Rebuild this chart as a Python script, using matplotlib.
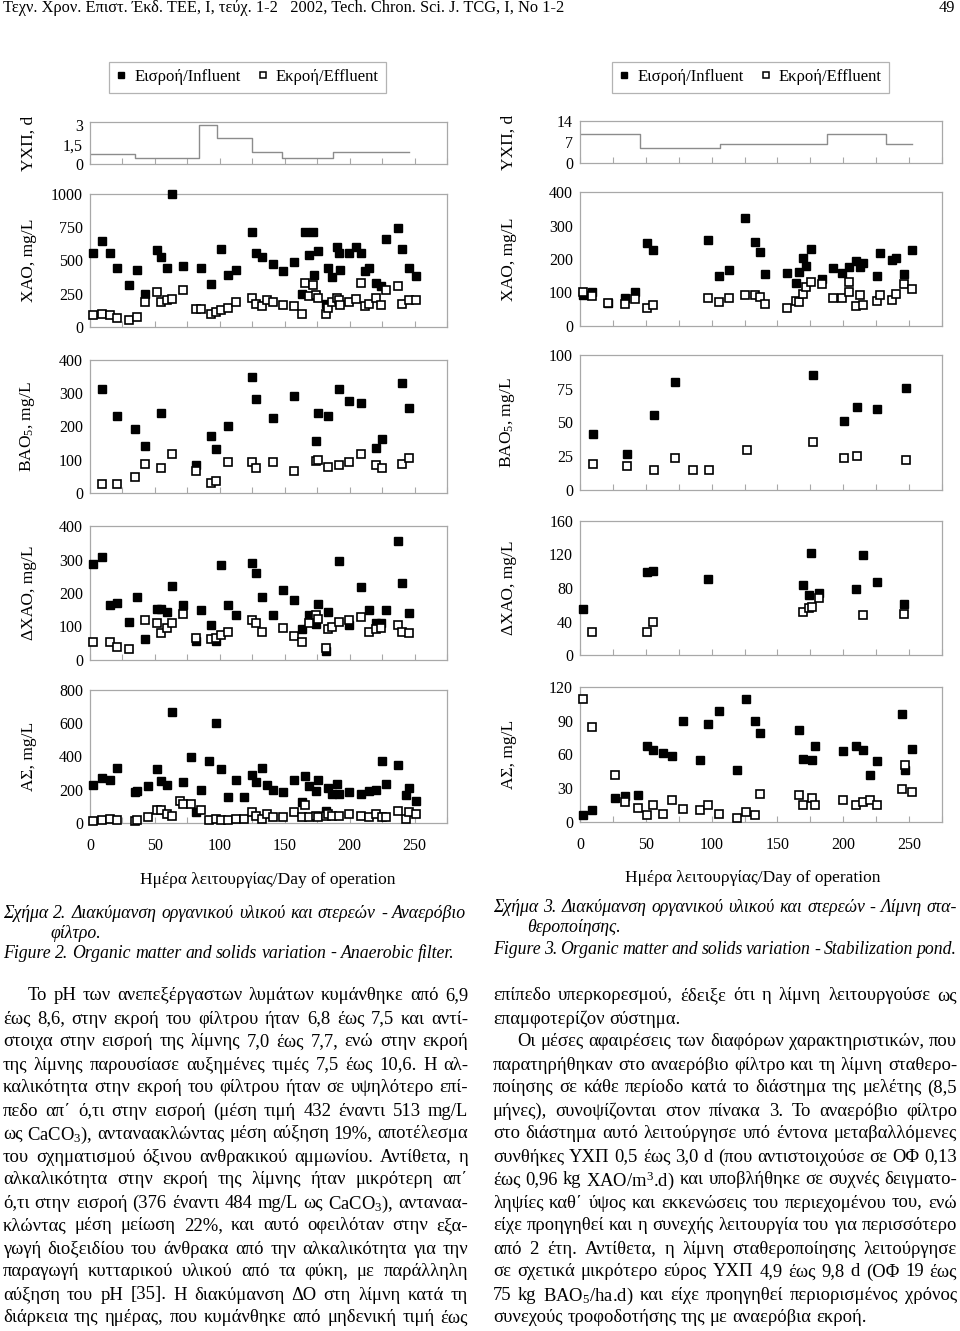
import matplotlib
matplotlib.use("Agg")
import matplotlib.pyplot as plt
from matplotlib.ticker import MultipleLocator, FuncFormatter
from matplotlib.lines import Line2D

plt.rcParams['font.family'] = ['Liberation Serif', 'DejaVu Serif']
plt.rcParams['mathtext.fontset'] = 'custom'
plt.rcParams['mathtext.rm'] = 'Liberation Serif'
plt.rcParams['mathtext.it'] = 'Liberation Serif:italic'

# ---------------- Anaerobic filter (Figure 2) ----------------
af_hrt_edges = [0, 34.6, 83.8, 98, 125, 148, 187, 245.6]
af_hrt_vals = [0.8, 0.5, 3.0, 2.0, 0.9, 0.5, 0.9]

af_cod_in_days = [2.6, 9, 15.4, 21, 30, 36.4, 42.3, 51.3, 54.6, 59, 63.3, 72, 85.6, 93, 101, 106, 112.3, 125,
                  127.7, 132.6, 141.3, 149, 157, 163.6, 165.4, 169, 171.8, 172.6, 176, 182, 183.6, 186.7, 190,
                  191.5, 192.3, 199.5, 205, 209, 211.8, 214.9, 220.5, 224.4, 228, 237, 240.5, 245.6, 251.5]
af_cod_in = [558, 646, 553, 440, 319, 427, 251, 578, 523, 440, 997, 460, 440, 327, 590, 394, 427, 711, 558, 528,
             472, 420, 490, 251, 711, 540, 711, 394, 570, 176, 440, 377, 603, 553, 427, 553, 603, 553, 422, 440,
             334, 309, 658, 746, 583, 440, 384]
af_cod_out_days = [2.6, 9, 15.4, 21, 30, 36.4, 42.3, 51.3, 54.6, 59, 63.3, 72, 81.3, 85.6, 93, 97, 101, 106,
                   112.3, 125, 127.7, 132.6, 136, 141.3, 149, 157, 163.6, 165.4, 169, 171.8, 173.8, 176, 181.5,
                   183.6, 186.7, 190, 191.5, 192.3, 199.5, 205, 209, 211.8, 214.9, 220.5, 224.4, 228, 237, 240.5,
                   245.6, 251.5]
af_cod_out = [88, 100, 88, 68, 55, 75, 188, 264, 188, 201, 211, 276, 138, 133, 100, 113, 126, 146, 188, 221, 176,
              156, 201, 188, 163, 156, 100, 332, 231, 319, 244, 221, 100, 143, 188, 221, 206, 163, 188, 214, 332,
              156, 176, 221, 163, 276, 307, 176, 201, 201]

af_bod_in_days = [9, 21, 34.6, 42.3, 54.6, 81.3, 93, 97, 106, 125, 127.7, 141.3, 157, 173.8, 176, 183.6, 191.5,
                  199.5, 209, 220.5, 225, 240.5, 246]
af_bod_in = [313, 231, 192, 140, 240, 83, 171, 132, 200, 348, 283, 227, 292, 157, 240, 231, 313, 278, 270, 135,
             162, 330, 257]
af_bod_out_days = [9, 21, 34.6, 42.3, 54.6, 63.3, 81.3, 93, 97, 106, 125, 127.7, 141.3, 157, 173.8, 176, 183.6,
                   191.5, 199.5, 209, 220.5, 225, 240.5, 246]
af_bod_out = [27, 27, 48, 88, 75, 118, 67, 31, 35, 92, 92, 75, 92, 67, 97, 100, 78, 83, 92, 118, 83, 75, 88, 105]

af_dcod_in_days = [2.6, 9, 15.4, 21, 30, 36.4, 42.3, 51.3, 54.6, 59, 63.3, 72, 81.3, 85.6, 93, 97, 101, 106,
                   112.3, 125, 127.7, 132.6, 141.3, 149, 157, 163.6, 169, 173.8, 176, 181.5, 183.6, 191.5, 199.5,
                   209, 214.9, 220.5, 224.4, 228, 237, 240.5, 246]
af_dcod_in = [287, 307, 165, 170, 114, 187, 62, 152, 152, 144, 222, 165, 58, 149, 104, 58, 283, 165, 135, 290, 261,
              187, 135, 209, 179, 92, 135, 107, 166, 28, 144, 297, 104, 218, 149, 109, 109, 149, 356, 231, 139]
af_dcod_out_days = [2.6, 15.4, 21, 30, 42.3, 51.3, 54.6, 59, 63.3, 72, 81.3, 93, 97, 101, 106, 125, 127.7, 132.6,
                    149, 157, 163.6, 169, 173.8, 176, 181.5, 183.6, 186.7, 191.5, 199.5, 209, 214.9, 220.5, 224.4,
                    237, 240.5, 246]
af_dcod_out = [53, 53, 40, 32, 119, 109, 80, 96, 109, 136, 66, 62, 66, 75, 83, 119, 109, 83, 96, 71, 53, 109, 135,
               122, 37, 92, 99, 114, 119, 129, 83, 92, 96, 104, 83, 80]

af_ss_in_days = [2.6, 9, 15.4, 21, 34.6, 36.4, 44.4, 51.3, 54.6, 59, 63.3, 72, 78, 81.3, 85.6, 91.3, 97, 101, 106,
                 112.3, 119, 125, 127.7, 132.6, 136, 141.3, 149, 157, 163.6, 165.4, 169, 173.8, 176, 181.5, 183.6,
                 186.7, 190, 191.5, 199.5, 209, 214.9, 220.5, 225, 228, 237, 243.6, 246, 251.5]
af_ss_in = [226, 270, 260, 330, 184, 190, 220, 322, 254, 226, 670, 244, 400, 64, 200, 374, 600, 324, 156, 260, 156,
            290, 244, 330, 226, 200, 184, 260, 124, 280, 220, 194, 260, 70, 210, 176, 234, 176, 184, 176, 190, 200,
            374, 234, 350, 170, 210, 130]
af_ss_out_days = [2.6, 9, 15.4, 21, 34.6, 36.4, 44.4, 51.3, 54.6, 59, 63.3, 69.2, 72, 78, 85.6, 91.3, 97, 101, 106,
                  112.3, 119, 125, 127.7, 132.6, 136, 141.3, 149, 157, 163.6, 165.4, 169, 173.8, 176, 181.5, 183.6,
                  186.7, 191.5, 199.5, 209, 214.9, 220.5, 225, 228, 237, 243.6, 246, 251.5]
af_ss_out = [10, 16, 26, 16, 10, 16, 36, 78, 78, 54, 44, 130, 116, 116, 78, 16, 26, 16, 16, 26, 26, 64, 44, 26, 54,
             36, 36, 64, 36, 110, 36, 44, 36, 44, 54, 44, 44, 54, 44, 36, 54, 36, 36, 70, 26, 64, 54]

# ---------------- Stabilization pond (Figure 3) ----------------
sp_hrt_edges = [0, 45.6, 106, 187.4, 232.5, 252]
sp_hrt_vals = [9.8, 4.9, 6.2, 9.8, 6.2]

sp_cod_in_days = [2.5, 8.9, 21, 34.2, 42, 50.7, 55.2, 97, 105.6, 113.5, 125.6, 133.2, 136.8, 140.8, 157.5, 164,
                  166.4, 169.7, 172, 175.8, 184, 192.5, 199.3, 204.4, 209.5, 212.8, 214.8, 225.4, 228, 236.8, 240.1,
                  246.5, 252.3]
sp_cod_in = [92, 102, 69, 84, 102, 248, 226, 256, 149, 167, 321, 251, 221, 154, 157, 127, 162, 204, 179, 231, 140,
             172, 159, 175, 194, 175, 189, 149, 218, 197, 204, 154, 226]
sp_cod_out_days = [2.5, 8.9, 21, 34.2, 42, 50.7, 55.2, 97, 105.6, 113.5, 125.6, 133.2, 136.8, 140.8, 157.5, 164,
                   166.4, 169.7, 172, 175.8, 184, 192.5, 199.3, 204.4, 204.4, 209.5, 212.8, 214.8, 225.4, 228,
                   236.8, 240.1, 246.5, 252.3]
sp_cod_out = [102, 89, 69, 67, 81, 55, 63, 84, 71, 84, 92, 92, 87, 67, 55, 75, 71, 97, 117, 132, 124, 84, 84, 102,
              132, 60, 92, 63, 75, 92, 79, 97, 124, 110]

sp_bod_in_days = [10.1, 35.5, 56.2, 72, 177.3, 200.4, 210.5, 226, 247.7]
sp_bod_in = [41.5, 26.4, 55.3, 80.2, 85.4, 51.1, 61.7, 59.8, 75.8]
sp_bod_out_days = [10.1, 35.5, 56.2, 72, 86, 98.3, 126.6, 177.3, 200.4, 210.5, 247.7]
sp_bod_out = [19, 18, 14.8, 23.5, 14.8, 14.8, 29.6, 35.3, 23.5, 25.4, 22.2]

sp_dcod_in_days = [2.5, 50.7, 55.2, 97, 169.7, 174, 175.8, 181.9, 209.5, 214.8, 225.4, 246.5]
sp_dcod_in = [54.8, 99.2, 100.8, 90.5, 83.7, 71.8, 121.8, 73.8, 78.6, 119.8, 86.9, 61.1]
sp_dcod_out_days = [8.9, 50.7, 55.2, 169.7, 174, 176.5, 181.9, 214.8, 246.5]
sp_dcod_out = [27, 27, 39.3, 51.2, 56, 57.5, 68.3, 47.6, 49.2]

sp_ss_in_days = [2.5, 9.1, 26.6, 34.4, 44.3, 50.7, 55.2, 62.8, 69.7, 78.5, 91.2, 97.3, 105.9, 119, 125.9, 133.2,
                 136.8, 166.4, 169.7, 176, 178.6, 199.6, 209.5, 214.8, 220.4, 225.9, 244.7, 246.7, 252.3]
sp_ss_in = [5.9, 11, 21.6, 23.1, 24.3, 67.6, 63.7, 61.3, 58.7, 89.8, 54.8, 87.1, 98.7, 45.9, 109, 89.8, 79.4, 82.1,
            56.3, 54.8, 67.6, 62.8, 67.6, 64.3, 42.1, 53.9, 96.3, 45.9, 64.6]
sp_ss_out_days = [2.5, 9.1, 26.6, 34.4, 44.3, 50.7, 55.2, 62.8, 69.7, 78.5, 91.2, 97.3, 105.9, 119, 125.9, 133.2,
                  136.8, 166.4, 169.7, 176, 178.6, 199.6, 209.5, 214.8, 220.4, 225.9, 244.7, 246.7, 252.3]
sp_ss_out = [109, 84.4, 42.1, 17.8, 12.7, 5.9, 15.4, 7.4, 19.3, 11.3, 10.4, 15.4, 7.4, 3.6, 8.9, 6.5, 25.2, 24.3,
             15.4, 21.6, 15.4, 19.3, 15.4, 17.8, 19.3, 15.4, 29.6, 50.4, 26.7]

legend_labels = ['Εισροή/Influent', 'Εκροή/Effluent']
x_label = 'Ημέρα λειτουργίας/Day of operation'

W, H = 960, 1331
fig = plt.figure(figsize=(W / 100, H / 100), dpi=100)
fig.patch.set_facecolor('white')

SPINE = '#a8a8a8'
MS = 5.6


def add_ax(x0, x1, ytop, ybot):
    ax = fig.add_axes([x0 / W, 1 - ybot / H, (x1 - x0) / W, (ybot - ytop) / H])
    ax._ycenter = 1 - (ytop + ybot) / 2 / H
    return ax


def style_ax(ax, ylim, ystep, ylabel, yticks=None, bottom=False, ylab_x=None, fmt=None):
    ax.set_xlim(0, 275)
    ax.set_ylim(*ylim)
    for s in ax.spines.values():
        s.set_color(SPINE)
        s.set_linewidth(0.9)
    ax.xaxis.set_major_locator(MultipleLocator(25))
    if bottom:
        ax.xaxis.set_major_formatter(FuncFormatter(lambda v, p: f"{int(v)}" if int(round(v)) % 50 == 0 else ""))
    else:
        ax.set_xticklabels([])
    if yticks is not None:
        ax.set_yticks(yticks)
    else:
        ax.yaxis.set_major_locator(MultipleLocator(ystep))
    if fmt is not None:
        ax.yaxis.set_major_formatter(FuncFormatter(fmt))
    ax.tick_params(axis='x', direction='in', length=4, color=SPINE, labelsize=11.5, pad=11, top=False)
    ax.tick_params(axis='y', direction='in', length=0, labelsize=11.5, pad=5)
    ax.set_ylabel(ylabel, fontsize=12.5)
    ax.yaxis.set_label_coords(ylab_x, ax._ycenter, transform=fig.transFigure)


def scatter_pair(ax, din, vin, dout, vout):
    ax.plot(din, vin, linestyle='none', marker='s', markersize=MS, markerfacecolor='black',
            markeredgecolor='black', clip_on=False, zorder=3)
    ax.plot(dout, vout, linestyle='none', marker='s', markersize=MS, markerfacecolor='white',
            markeredgecolor='black', markeredgewidth=1.2, clip_on=False, zorder=3)


def hrt_plot(ax, edges, vals):
    xs, ys = [], []
    for i, v in enumerate(vals):
        xs += [edges[i], edges[i + 1]]
        ys += [v, v]
    ax.plot(xs, ys, color='#8c8c8c', linewidth=1.0)


comma = lambda v, p: (f"{v:g}").replace('.', ',')

# Left column (Figure 2)
LX0, LX1 = 90, 447
LYL = 37 / W
ax = add_ax(LX0, LX1, 122, 164)
hrt_plot(ax, af_hrt_edges, af_hrt_vals)
style_ax(ax, (0, 3.25), None, 'ΥΧΠ, d', yticks=[0, 1.5, 3], ylab_x=LYL, fmt=comma)

ax = add_ax(LX0, LX1, 194, 327)
scatter_pair(ax, af_cod_in_days, af_cod_in, af_cod_out_days, af_cod_out)
style_ax(ax, (0, 1000), 250, 'ΧΑΟ, mg/L', ylab_x=LYL)

ax = add_ax(LX0, LX1, 360, 493)
scatter_pair(ax, af_bod_in_days, af_bod_in, af_bod_out_days, af_bod_out)
style_ax(ax, (0, 400), 100, 'ΒΑΟ$_5$, mg/L', ylab_x=LYL)

ax = add_ax(LX0, LX1, 526, 660)
scatter_pair(ax, af_dcod_in_days, af_dcod_in, af_dcod_out_days, af_dcod_out)
style_ax(ax, (0, 400), 100, 'ΔΧΑΟ, mg/L', ylab_x=LYL)

ax = add_ax(LX0, LX1, 690, 823)
scatter_pair(ax, af_ss_in_days, af_ss_in, af_ss_out_days, af_ss_out)
style_ax(ax, (0, 800), 200, 'ΑΣ, mg/L', bottom=True, ylab_x=LYL)
fig.text(268 / W, 1 - 880 / H, x_label, ha='center', va='center', fontsize=12.5)

# Right column (Figure 3)
RX0, RX1 = 580, 942
RYL = 517 / W
ax = add_ax(RX0, RX1, 121, 163)
hrt_plot(ax, sp_hrt_edges, sp_hrt_vals)
style_ax(ax, (0, 14), None, 'ΥΧΠ, d', yticks=[0, 7, 14], ylab_x=RYL)

ax = add_ax(RX0, RX1, 192, 326)
scatter_pair(ax, sp_cod_in_days, sp_cod_in, sp_cod_out_days, sp_cod_out)
style_ax(ax, (0, 400), 100, 'ΧΑΟ, mg/L', ylab_x=RYL)

ax = add_ax(RX0, RX1, 355, 490)
scatter_pair(ax, sp_bod_in_days, sp_bod_in, sp_bod_out_days, sp_bod_out)
style_ax(ax, (0, 100), 25, 'ΒΑΟ$_5$, mg/L', ylab_x=RYL)

ax = add_ax(RX0, RX1, 521, 655)
scatter_pair(ax, sp_dcod_in_days, sp_dcod_in, sp_dcod_out_days, sp_dcod_out)
style_ax(ax, (0, 160), 40, 'ΔΧΑΟ, mg/L', ylab_x=RYL)

ax = add_ax(RX0, RX1, 687, 822)
scatter_pair(ax, sp_ss_in_days, sp_ss_in, sp_ss_out_days, sp_ss_out)
style_ax(ax, (0, 120), 30, 'ΑΣ, mg/L', bottom=True, ylab_x=RYL)
fig.text(753 / W, 1 - 878 / H, x_label, ha='center', va='center', fontsize=12.5)

# Legends
handles = [Line2D([], [], linestyle='none', marker='s', markersize=5, markerfacecolor='black',
                  markeredgecolor='black'),
           Line2D([], [], linestyle='none', marker='s', markersize=5, markerfacecolor='white',
                  markeredgecolor='black', markeredgewidth=1.1)]
for cx in [(117 + 378) / 2, (619 + 882) / 2]:
    lg = fig.legend(handles, legend_labels, loc='center', bbox_to_anchor=(cx / W, 1 - 77 / H), ncol=2,
                    fontsize=12, frameon=True, fancybox=False, edgecolor='#a0a0a0', handlelength=0.6,
                    handletextpad=0.5, columnspacing=1.0, borderpad=0.45)
    lg.get_frame().set_linewidth(0.9)

# ---------------- Page text ----------------
renderer = fig.canvas.get_renderer()


def text_line(text, x0, x1, y, fontsize, style='normal', justify=True):
    words = text.split(' ')
    widths = []
    for w in words:
        t = fig.text(0, 0, w, fontsize=fontsize, style=style)
        widths.append(t.get_window_extent(renderer).width)
        t.remove()
    if justify and len(words) > 1:
        gap = (x1 - x0 - sum(widths)) / (len(words) - 1)
    else:
        gap = fontsize * 0.25 * 100 / 72
    x = x0
    for w, wd in zip(words, widths):
        fig.text(x / W, 1 - y / H, w, fontsize=fontsize, style=style, ha='left', va='center_baseline')
        x += wd + gap


# header
fig.text(3 / W, 1 - 8 / H, 'Τεχν. Χρον. Επιστ. Έκδ. ΤΕΕ, Ι, τεύχ. 1-2   2002, Tech. Chron. Sci. J. TCG, I, No 1-2',
         fontsize=11.8, ha='left', va='center')
fig.text(955 / W, 1 - 8 / H, '49', fontsize=11.8, ha='right', va='center')

# captions
CFS = 12.8
text_line('Σχήμα 2. Διακύμανση οργανικού υλικού και στερεών - Αναερόβιο', 3, 466, 912, CFS, 'italic')
text_line('φίλτρο.', 50, 466, 931, CFS, 'italic', justify=False)
text_line('Figure 2. Organic matter and solids variation - Anaerobic filter.', 3, 455, 951, CFS, 'italic')
text_line('Σχήμα 3. Διακύμανση οργανικού υλικού και στερεών - Λίμνη στα-', 493, 957, 906, CFS, 'italic')
text_line('θεροποίησης.', 527, 957, 926, CFS, 'italic', justify=False)
text_line('Figure 3. Organic matter and solids variation - Stabilization pond.', 493, 956, 948, CFS, 'italic')

BFS = 13.4
left_lines = [
    ('Το pH των ανεπεξέργαστων λυμάτων κυμάνθηκε από 6,9', 28, True),
    ('έως 8,6, στην εκροή του φίλτρου ήταν 6,8 έως 7,5 και αντί-', 3, True),
    ('στοιχα στην εισροή της λίμνης 7,0 έως 7,7, ενώ στην εκροή', 3, True),
    ('της λίμνης παρουσίασε αυξημένες τιμές 7,5 έως 10,6. Η αλ-', 3, True),
    ('καλικότητα στην εκροή του φίλτρου ήταν σε υψηλότερο επί-', 3, True),
    ('πεδο απ΄ ό,τι στην εισροή (μέση τιμή 432 έναντι 513 mg/L', 3, True),
    ('ως CaCO$_3$), ανταναακλώντας μέση αύξηση 19%, αποτέλεσμα', 3, True),
    ('του σχηματισμού όξινου ανθρακικού αμμωνίου. Αντίθετα, η', 3, True),
    ('αλκαλικότητα στην εκροή της λίμνης ήταν μικρότερη απ΄', 3, True),
    ('ό,τι στην εισροή (376 έναντι 484 mg/L ως CaCO$_3$), ανταναα-', 3, True),
    ('κλώντας μέση μείωση 22%, και αυτό οφειλόταν στην εξα-', 3, True),
    ('γωγή διοξειδίου του άνθρακα από την αλκαλικότητα για την', 3, True),
    ('παραγωγή κυτταρικού υλικού από τα φύκη, με παράλληλη', 3, True),
    ('αύξηση του pH [35]. Η διακύμανση ΔΟ στη λίμνη κατά τη', 3, True),
    ('διάρκεια της ημέρας, που κυμάνθηκε από μηδενική τιμή έως', 3, True),
]
right_lines = [
    ('επίπεδο υπερκορεσμού, έδειξε ότι η λίμνη λειτουργούσε ως', 493, True),
    ('επαμφοτερίζον σύστημα.', 493, False),
    ('Οι μέσες αφαιρέσεις των διαφόρων χαρακτηριστικών, που', 517, True),
    ('παρατηρήθηκαν στο αναερόβιο φίλτρο και τη λίμνη σταθερο-', 493, True),
    ('ποίησης σε κάθε περίοδο κατά το διάστημα της μελέτης (8,5', 493, True),
    ('μήνες), συνοψίζονται στον πίνακα 3. Το αναερόβιο φίλτρο', 493, True),
    ('στο διάστημα αυτό λειτούργησε υπό έντονα μεταβαλλόμενες', 493, True),
    ('συνθήκες ΥΧΠ 0,5 έως 3,0 d (που αντιστοιχούσε σε ΟΦ 0,13', 493, True),
    ('έως 0,96 kg ΧΑΟ/m$^3$.d) και υποβλήθηκε σε συχνές δειγματο-', 493, True),
    ('ληψίες καθ΄ ύψος και εκκενώσεις του περιεχομένου του, ενώ', 493, True),
    ('είχε προηγηθεί και η συνεχής λειτουργία του για περισσότερο', 493, True),
    ('από 2 έτη. Αντίθετα, η λίμνη σταθεροποίησης λειτούργησε', 493, True),
    ('σε σχετικά μικρότερο εύρος ΥΧΠ 4,9 έως 9,8 d (ΟΦ 19 έως', 493, True),
    ('75 kg ΒΑΟ$_5$/ha.d) και είχε προηγηθεί περιορισμένος χρόνος', 493, True),
    ('συνεχούς τροφοδοτήσης της με αναερόβια εκροή.', 493, False),
]
for i, (txt, x0, just) in enumerate(left_lines):
    text_line(txt, x0, 468, 994 + i * 23.0, BFS, justify=just)
for i, (txt, x0, just) in enumerate(right_lines):
    text_line(txt, x0, 957, 994 + i * 23.0, BFS, justify=just)

fig.savefig('out.png', dpi=100, facecolor='white')
